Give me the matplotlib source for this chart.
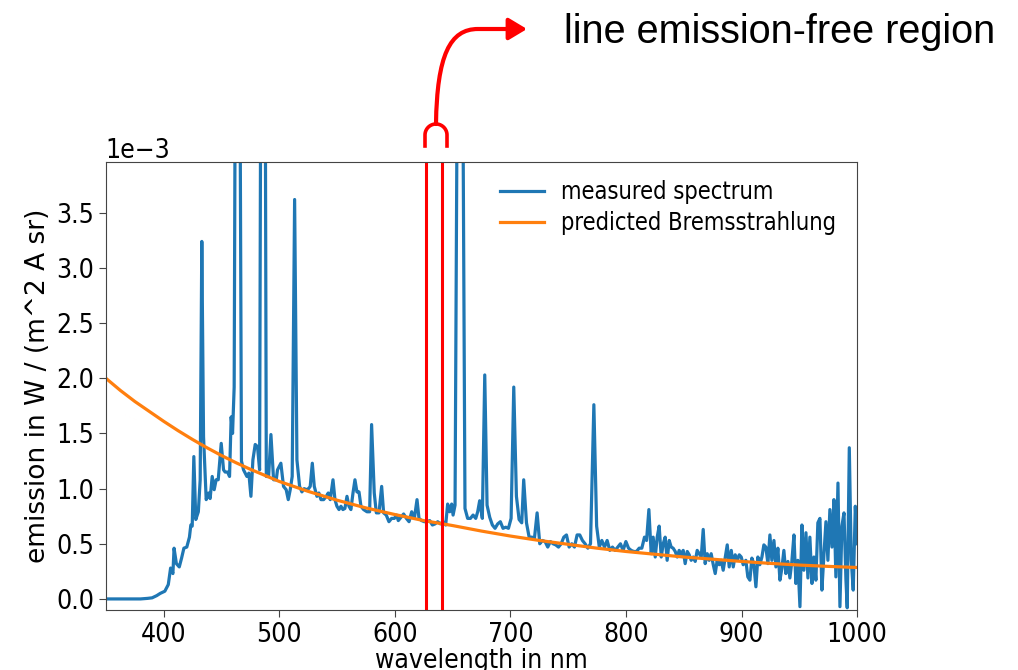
import numpy as np
import matplotlib
matplotlib.use("Agg")
import matplotlib.pyplot as plt
from matplotlib.path import Path
from matplotlib.patches import FancyArrowPatch
from matplotlib.lines import Line2D
from matplotlib.ticker import MultipleLocator

# measured spectrum (wavelength in nm, emission in 1e-3 W/(m^2 A sr))
wavelength = [
    350, 360, 370, 380, 386, 390, 394, 397, 401, 404, 406, 408, 409, 411, 413.5, 415.5,
    417.5, 420, 422.3, 423.5, 424.7, 426.1, 427.8, 430, 431.6, 433, 434.5, 436.8, 438.8,
    440.2, 442, 443.7, 445.4, 447.2, 449.8, 451.8, 453.2, 455.3, 457, 458.4, 459.6, 461,
    462.3, 465.6, 467.3, 469.1, 472, 473.7, 475.5, 477.2, 479.2, 481.2, 483, 484.3, 487.6,
    488.8, 490.8, 492.8, 495.1, 497.4, 498.5, 501.4, 503.7, 506, 507.8, 509.5, 511.2,
    513.3, 515.3, 517.6, 519.6, 521.6, 523.4, 525.4, 526.8, 528.6, 530.3, 532.6, 534.3,
    536.1, 538.4, 540.7, 542.4, 544.1, 546.5, 548.2, 549.9, 551.7, 553.4, 555.1, 556.8,
    558.6, 560.3, 562, 563.8, 565.5, 567.2, 569, 570.7, 573, 575.9, 578.2, 579.9, 582.2,
    584, 586.3, 588.6, 590.3, 592.6, 594.9, 597.2, 599.6, 601.5, 603, 605.3, 607.6, 610,
    612.3, 614.6, 616.9, 619.2, 620.9, 623.2, 625.5, 627.8, 630.2, 632.5, 634.8, 637.1,
    639.4, 641.7, 644, 645.7, 647.5, 649.2, 650.4, 652.1, 654.6, 658.2, 660.7, 663, 665.4,
    667.7, 670, 671.7, 673.4, 675.7, 677.8, 679.8, 682.1, 684.4, 686.7, 689, 691.3, 693.6,
    696, 698.3, 700.6, 702.9, 705.2, 707.5, 709.8, 711.5, 713.9, 716.2, 718.5, 720.8,
    723.1, 725.4, 727.7, 730, 732.3, 734.6, 736.9, 739.2, 741.6, 743.9, 746.2, 748.5,
    750.8, 753.1, 755.4, 757.7, 760, 762.3, 764.6, 767, 769.3, 772.2, 774.6, 776.9, 779.1,
    781.4, 783.7, 786, 788.3, 790.6, 792.9, 795.2, 797.5, 799.9, 802.2, 804.5, 806.8,
    809.1, 811.4, 813.7, 816, 817.8, 819.8, 821.8, 823.5, 825.3, 827, 828.7, 830.5, 832.2,
    833.9, 835.6, 837.4, 839.1, 840.8, 842.6, 844.3, 846, 847.8, 849.5, 851.2, 853, 854.7,
    856.4, 858.2, 859.9, 861.6, 863.4, 865.1, 866.8, 868.5, 870.3, 872, 873.7, 875.5,
    877.2, 878.9, 880.7, 882.4, 884.1, 885.9, 887.6, 889.3, 891.1, 892.8, 894.5, 896.3,
    898, 899.7, 901.4, 903.7, 905.4, 907.2, 908.9, 910.6, 912.4, 914.1, 915.8, 917.6,
    919.3, 921, 922.8, 924.5, 926.2, 928, 929.7, 931.4, 933.2, 934.9, 936.6, 938.3, 940.1,
    941.8, 943.5, 945.3, 947, 948.7, 950.5, 952.2, 953.9, 955.7, 957.4, 959.1, 960.9,
    962.6, 964.3, 966, 967.8, 969.5, 971.3, 973, 974.7, 976.4, 978.2, 979.9, 981.6, 983.4,
    985.1, 986.8, 988.6, 990.3, 991.4, 993.2, 994.9, 996.6, 998.4, 1000,
]
measured = [
    0, 0, 0, 0, 0.005, 0.01, 0.03, 0.05, 0.07, 0.13, 0.28, 0.23, 0.46, 0.32, 0.29, 0.37,
    0.46, 0.47, 0.56, 0.67, 0.66, 1.29, 0.72, 0.79, 1.08, 3.24, 1.47, 0.90, 0.96,
    0.91, 1.11, 0.99, 1.08, 1.08, 1.41, 1.17, 1.15, 1.15, 1.11, 1.65, 1.50, 1.92,
    6.0, 6.0, 1.25, 1.17, 1.11, 1.14, 0.93, 1.26, 1.40, 1.38, 1.17, 6.0, 6.0,
    1.11, 1.11, 1.49, 1.08, 1.08, 1.17, 1.23, 1.02, 0.99, 0.90, 0.99, 1.11,
    3.62, 1.26, 1.02, 0.97, 1.00, 0.99, 1.00, 1.02, 1.23, 1.02, 0.93, 0.96,
    0.90, 0.90, 0.93, 0.96, 0.90, 1.08, 0.90, 0.84, 0.81, 0.84, 0.81, 0.82,
    0.93, 0.84, 0.81, 0.96, 1.08, 0.97, 0.97, 0.84, 0.81, 0.79, 0.79, 1.58, 0.96,
    0.78, 0.78, 1.02, 0.78, 0.76, 0.70, 0.73, 0.73, 0.76, 0.71, 0.74, 0.77, 0.73,
    0.70, 0.79, 0.73, 0.90, 0.73, 0.71, 0.70, 0.70, 0.71, 0.67, 0.68, 0.70,
    0.68, 0.70, 0.67, 0.86, 0.79, 0.86, 0.76, 0.85, 6.0, 6.0, 0.82, 0.73, 0.73,
    0.76, 0.73, 0.79, 0.89, 0.73, 2.03, 0.85, 0.74, 0.67, 0.64, 0.68, 0.70, 0.64,
    0.65, 0.64, 0.73, 1.92, 0.93, 0.72, 0.69, 1.08, 0.69, 0.56, 0.56, 0.55,
    0.78, 0.50, 0.53, 0.52, 0.47, 0.52, 0.50, 0.49, 0.47, 0.50, 0.56, 0.58,
    0.47, 0.50, 0.47, 0.58, 0.58, 0.53, 0.50, 0.46, 0.50, 1.76, 0.66, 0.47, 0.53,
    0.47, 0.53, 0.44, 0.47, 0.44, 0.47, 0.50, 0.44, 0.52, 0.46, 0.44, 0.43,
    0.43, 0.46, 0.46, 0.56, 0.53, 0.81, 0.41, 0.56, 0.38, 0.56, 0.66, 0.38, 0.50,
    0.56, 0.35, 0.53, 0.47, 0.46, 0.43, 0.38, 0.44, 0.40, 0.44, 0.32, 0.43, 0.40,
    0.35, 0.38, 0.34, 0.44, 0.41, 0.38, 0.63, 0.32, 0.41, 0.35, 0.41, 0.31,
    0.23, 0.35, 0.31, 0.35, 0.26, 0.38, 0.49, 0.29, 0.44, 0.29, 0.40, 0.35,
    0.40, 0.38, 0.31, 0.35, 0.20, 0.17, 0.37, 0.32, 0.11, 0.38, 0.31, 0.38,
    0.49, 0.47, 0.32, 0.58, 0.35, 0.53, 0.29, 0.46, 0.17, 0.28, 0.44, 0.23, 0.34,
    0.19, 0.34, 0.58, 0.14, 0.35, -0.07, 0.67, 0.26, 0.60, 0.19, 0.56, 0.14,
    0.38, 0.17, 0.69, 0.73, 0.08, 0.41, 0.70, 0.35, 0.81, 0.47, 0.90, 0.20, 1.05,
    -0.07, 0.66, 0.78, 0.17, -0.08, 1.37, 0.35, 0.08, 0.84, 0.50,
]

# predicted Bremsstrahlung continuum
brems_wavelength = [350, 362.5, 375, 387.5, 400, 412.5, 425, 437.5, 450, 462.5, 475,
                    487.5, 500, 525, 550, 575, 600, 625, 650, 675, 700, 725, 750, 775,
                    800, 825, 850, 875, 900, 925, 950, 975, 1000]
brems = [2.00, 1.89, 1.79, 1.70, 1.61, 1.525, 1.445, 1.37, 1.30, 1.235, 1.175,
         1.12, 1.065, 0.975, 0.895, 0.825, 0.765, 0.71, 0.665, 0.615, 0.57, 0.53,
         0.495, 0.46, 0.43, 0.405, 0.38, 0.36, 0.34, 0.322, 0.307, 0.295, 0.285]

# borders of the line emission-free window
region_lo = 627
region_hi = 641

plt.rcParams["font.family"] = "DejaVu Sans"
plt.rcParams["font.stretch"] = "condensed"

W, H = 1018, 670
fig = plt.figure(figsize=(W / 100, H / 100), dpi=100)
ax = fig.add_axes([0.104, 0.0896, 0.738, 0.6686])

ax.plot(wavelength, np.array(measured) * 1e-3, color="#1f77b4", lw=2.3,
        label="measured spectrum")
ax.plot(brems_wavelength, np.array(brems) * 1e-3, color="#ff7f0e", lw=2.3,
        label="predicted Bremsstrahlung")
ax.axvline(region_lo, color="red", lw=2.2)
ax.axvline(region_hi, color="red", lw=2.2)

ax.set_xlim(350, 1000)
ax.set_ylim(-0.0001, 0.00396)
ax.yaxis.set_major_locator(MultipleLocator(0.0005))
ax.ticklabel_format(axis="y", style="sci", scilimits=(0, 0))
ax.set_xlabel("wavelength in nm", fontsize=19, labelpad=0)
ax.set_ylabel("emission in W / (m^2 A sr)", fontsize=19, fontstretch="normal", labelpad=4)
ax.tick_params(labelsize=19, length=5, color="#444444")
ax.yaxis.get_offset_text().set_fontsize(19)
for s in ax.spines.values():
    s.set_color("#444444")

ax.legend(loc="upper right", frameon=False, fontsize=17, handlelength=1.9,
          handletextpad=0.7, labelspacing=0.3, bbox_to_anchor=(1.0, 1.007))


def px(x, y):
    # image pixel position (origin top-left) -> figure fraction
    return (x / W, 1 - y / H)


# bracket over the window
t = np.linspace(np.pi, 0, 30)
bx = np.concatenate([[425], 436 + 11 * np.cos(t), [447]])
by = np.concatenate([[146], 135 - 11 * np.sin(t), [146]])
fig.add_artist(Line2D(bx / W, 1 - by / H, color="red", lw=2.6,
                      transform=fig.transFigure))

# curved arrow pointing to the caption
verts = [px(436, 124), px(437, 55), px(450, 29), px(478, 29), px(527, 29)]
codes = [Path.MOVETO, Path.CURVE4, Path.CURVE4, Path.CURVE4, Path.LINETO]
arrow = FancyArrowPatch(path=Path(verts, codes), arrowstyle="-|>,head_length=0.55,head_width=0.33",
                        mutation_scale=20, color="red", lw=3, transform=fig.transFigure)
fig.add_artist(arrow)

fig.text(564 / W, 1 - 32 / H, "line emission-free region", fontsize=28.5,
         family="Liberation Sans", fontstretch="normal", va="center", ha="left")

fig.savefig("out.png", dpi=100)
